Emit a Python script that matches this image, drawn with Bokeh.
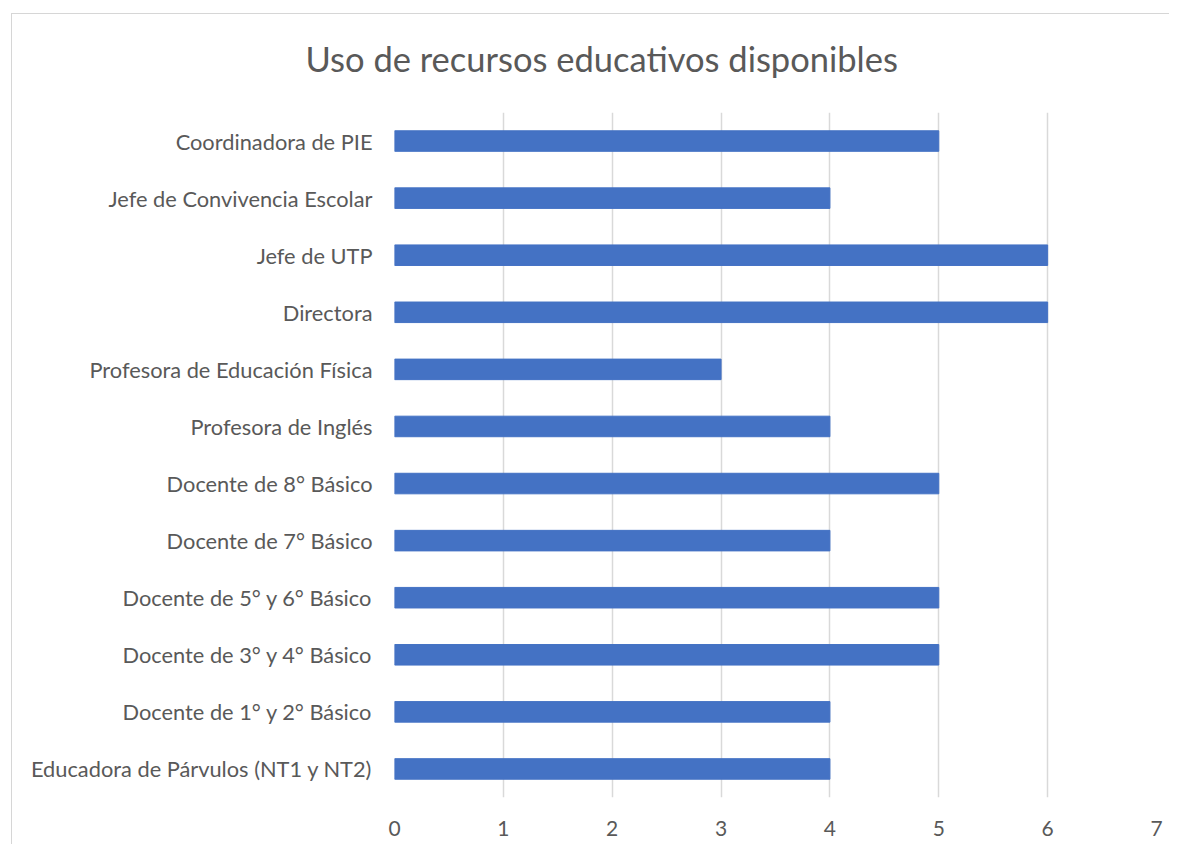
from bokeh.plotting import figure
from bokeh.models import Range1d, FixedTicker, ColumnDataSource, Title
from bokeh.embed import file_html
from bokeh.resources import INLINE

categories = [
    "Educadora de Párvulos (NT1 y NT2)",
    "Docente de 1° y 2° Básico",
    "Docente de 3° y 4° Básico",
    "Docente de 5° y 6° Básico",
    "Docente de 7° Básico",
    "Docente de 8° Básico",
    "Profesora de Inglés",
    "Profesora de Educación Física",
    "Directora",
    "Jefe de UTP",
    "Jefe de Convivencia Escolar",
    "Coordinadora de PIE",
]
values = [4, 4, 5, 5, 4, 5, 4, 3, 6, 6, 4, 5]
x_ticks = [0, 1, 2, 3, 4, 5, 6, 7]
title_text = "Uso de recursos educativos disponibles"

FONT = "Lato"
TEXT = "#595959"
GRID = "#d9d9d9"
BAR = "#4472C4"
EDGE = "#d6d6d6"

src = ColumnDataSource(dict(cat=categories, val=values))

# chart-area edge (left and top lines) drawn as the page element's background
edge_bg = (
    f"linear-gradient({EDGE},{EDGE}) 11px 13px / 1px calc(100% - 13px) no-repeat, "
    f"linear-gradient({EDGE},{EDGE}) 11px 13px / calc(100% - 11px) 1px no-repeat, "
    "white"
)

p = figure(
    y_range=categories,
    x_range=Range1d(0, 7),
    width=1169,
    height=844,
    output_backend="svg",
    toolbar_location=None,
    min_border_left=394,
    min_border_top=112,
    min_border_right=13,
    min_border_bottom=47,
    styles={"background": edge_bg},
)
p.y_range.range_padding = 0

p.hbar(y="cat", right="val", left=0, height=0.36, source=src,
       fill_color=BAR, line_color=BAR)

t = Title(text=title_text, align="left", offset=-89, vertical_align="top",
          text_font=FONT, text_font_size="34.5px", text_color=TEXT,
          text_font_style="normal", standoff=64)
p.add_layout(t, "above")

p.outline_line_color = None
p.background_fill_color = "white"
p.border_fill_color = None

p.xaxis.ticker = FixedTicker(ticks=x_ticks)
p.xgrid.ticker = FixedTicker(ticks=x_ticks)
p.xgrid.grid_line_color = GRID
p.xgrid.grid_line_width = 1.5
p.ygrid.grid_line_color = None

for ax in (p.xaxis[0], p.yaxis[0]):
    ax.axis_line_color = None
    ax.major_tick_line_color = None
    ax.minor_tick_line_color = None
    ax.major_tick_in = 0
    ax.major_tick_out = 0
    ax.major_label_text_font = FONT
    ax.major_label_text_color = TEXT

p.yaxis.major_label_text_font_size = "21.8px"
p.xaxis.major_label_text_font_size = "21px"
p.xaxis.major_label_standoff = 23
p.yaxis.major_label_standoff = 22

open("out.html", "w").write(file_html(p, INLINE))
